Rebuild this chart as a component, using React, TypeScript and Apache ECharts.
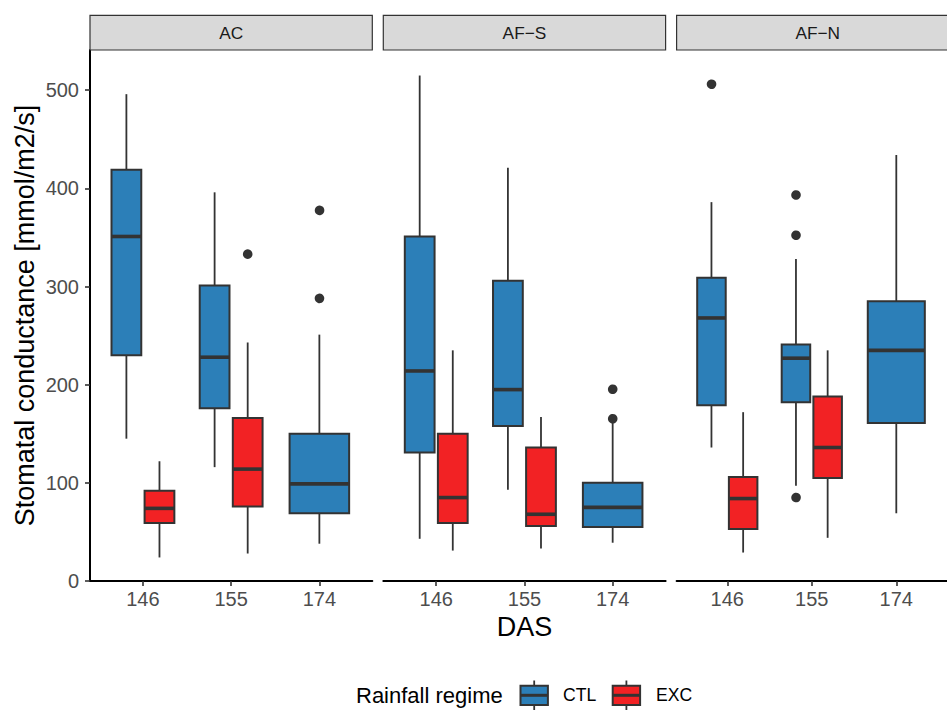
import React, { useEffect, useRef } from 'react';
import * as echarts from 'echarts';

const days = ['146', '155', '174'];
const facets = ['AC', 'AF\u2212S', 'AF\u2212N'];
const groups = ['CTL', 'EXC'];
const yTicks = [0, 100, 200, 300, 400, 500];

// box stats per day: [lower whisker, Q1, median, Q3, upper whisker]
const acCTL = [[145, 230, 351, 419, 496], [116, 176, 228, 301, 396], [38, 69, 99, 150, 251]];
const acEXC = [[24, 59, 74, 92, 122], [28, 76, 114, 166, 243], null];
const afsCTL = [[43, 131, 214, 351, 515], [93, 158, 195, 306, 421], [39, 55, 75, 100, 162]];
const afsEXC = [[31, 59, 85, 150, 235], [33, 56, 68, 136, 167], null];
const afnCTL = [[136, 179, 268, 309, 386], [97, 182, 227, 241, 328], [69, 161, 235, 285, 434]];
const afnEXC = [[29, 53, 84, 106, 172], [44, 105, 136, 188, 235], null];

// outliers per day
const acCTLOut = [[], [], [379, 289]];
const acEXCOut = [[], [333], []];
const afsCTLOut = [[], [], [196, 166]];
const afsEXCOut = [[], [], []];
const afnCTLOut = [[507], [394, 353, 86], []];
const afnEXCOut = [[], [], []];

const boxData = [
  [acCTL, acEXC],
  [afsCTL, afsEXC],
  [afnCTL, afnEXC],
];
const outData = [
  [acCTLOut, acEXCOut],
  [afsCTLOut, afsEXCOut],
  [afnCTLOut, afnEXCOut],
];

const COLORS = ['#2C7FB8', '#F22224'];
const EDGE = '#333333';
const FONT = '"Liberation Sans", Arial, Helvetica, sans-serif';
const PANEL_LEFT = [90, 383.3, 676.6];
const PANEL_W = 282.3;
const PANEL_TOP = 50;
const PANEL_H = 531;
const DODGE = 0.1875;

function slotFor(panel: number, g: number, d: number) {
  const other = boxData[panel][1 - g][d];
  if (!other) return 0;
  return g === 0 ? -1 : 1;
}

function renderBox(params: any, api: any) {
  const x = api.value(0);
  const slot = api.value(6);
  const band = api.size([1, 0])[0];
  const cx = api.coord([x + slot * DODGE, 0])[0];
  const w = band * (slot === 0 ? 0.675 : 0.3375);
  const yLow = api.coord([x, api.value(1)])[1];
  const yQ1 = api.coord([x, api.value(2)])[1];
  const yMed = api.coord([x, api.value(3)])[1];
  const yQ3 = api.coord([x, api.value(4)])[1];
  const yHigh = api.coord([x, api.value(5)])[1];
  const fill = COLORS[params.seriesName === 'EXC' ? 1 : 0];
  const wl = { stroke: EDGE, lineWidth: 1.8 };
  return {
    type: 'group',
    children: [
      { type: 'line', shape: { x1: cx, y1: yQ3, x2: cx, y2: yHigh }, style: wl },
      { type: 'line', shape: { x1: cx, y1: yQ1, x2: cx, y2: yLow }, style: wl },
      {
        type: 'rect',
        shape: { x: cx - w / 2, y: yQ3, width: w, height: yQ1 - yQ3 },
        style: { fill, stroke: EDGE, lineWidth: 2 },
      },
      {
        type: 'line',
        shape: { x1: cx - w / 2, y1: yMed, x2: cx + w / 2, y2: yMed },
        style: { stroke: EDGE, lineWidth: 3.6 },
      },
    ],
  };
}

function renderOut(params: any, api: any) {
  const x = api.value(0);
  const slot = api.value(2);
  const p = api.coord([x + slot * DODGE, api.value(1)]);
  return { type: 'circle', shape: { cx: p[0], cy: p[1], r: 4.8 }, style: { fill: EDGE } };
}

function buildOption() {
  const grid: any[] = [];
  const xAxis: any[] = [];
  const yAxis: any[] = [];
  const series: any[] = [];
  const graphic: any[] = [];

  facets.forEach((f, p) => {
    grid.push({ left: PANEL_LEFT[p], top: PANEL_TOP, width: PANEL_W, height: PANEL_H, containLabel: false });
    xAxis.push({
      type: 'value',
      gridIndex: p,
      min: 0.4,
      max: 3.6,
      splitLine: { show: false },
      axisLine: { show: true, lineStyle: { color: '#000000', width: 2 } },
      axisTick: { show: true, customValues: [1, 2, 3], length: 5, lineStyle: { color: EDGE, width: 1.6 } },
      axisLabel: {
        customValues: [1, 2, 3],
        formatter: (v: number) => days[Math.round(v) - 1] ?? '',
        fontSize: 20,
        color: '#4D4D4D',
        fontFamily: FONT,
        margin: 8,
      },
      ...(p === 1
        ? {
            name: 'DAS',
            nameLocation: 'middle',
            nameGap: 30,
            nameTextStyle: { fontSize: 27, color: '#000000', fontFamily: FONT },
          }
        : {}),
    });
    yAxis.push({
      type: 'value',
      gridIndex: p,
      min: 0,
      max: 541,
      show: p === 0,
      splitLine: { show: false },
      axisLine: { show: true, lineStyle: { color: '#000000', width: 2 } },
      axisTick: { show: true, customValues: yTicks, length: 5, lineStyle: { color: EDGE, width: 1.6 } },
      axisLabel: {
        customValues: yTicks,
        fontSize: 20,
        color: '#4D4D4D',
        fontFamily: FONT,
        margin: 11,
      },
      ...(p === 0
        ? {
            name: 'Stomatal conductance [mmol/m2/s]',
            nameLocation: 'middle',
            nameGap: 52,
            nameRotate: 90,
            nameTextStyle: { fontSize: 27, color: '#000000', fontFamily: FONT },
          }
        : {}),
    });

    groups.forEach((g, gi) => {
      const stats = boxData[p][gi];
      const data: any[] = [];
      stats.forEach((s, d) => {
        if (s) data.push([d + 1, s[0], s[1], s[2], s[3], s[4], slotFor(p, gi, d)]);
      });
      series.push({
        type: 'custom',
        name: g,
        xAxisIndex: p,
        yAxisIndex: p,
        renderItem: renderBox,
        encode: { x: 0, y: [1, 2, 3, 4, 5] },
        data,
        z: 2,
      });
      const outs: any[] = [];
      outData[p][gi].forEach((vals, d) => {
        vals.forEach((v) => outs.push([d + 1, v, slotFor(p, gi, d)]));
      });
      if (outs.length) {
        series.push({
          type: 'custom',
          name: g + ' outliers',
          xAxisIndex: p,
          yAxisIndex: p,
          renderItem: renderOut,
          encode: { x: 0, y: 1 },
          data: outs,
          z: 3,
        });
      }
    });

    graphic.push({
      type: 'rect',
      shape: { x: PANEL_LEFT[p], y: 15.3, width: PANEL_W, height: PANEL_TOP - 15.3 },
      style: { fill: '#D9D9D9', stroke: EDGE, lineWidth: 1.2 },
      z: 10,
    });
    graphic.push({
      type: 'text',
      x: PANEL_LEFT[p] + PANEL_W / 2,
      y: (15.3 + PANEL_TOP) / 2,
      style: {
        text: f,
        fontSize: 17.3,
        fill: '#1A1A1A',
        fontFamily: FONT,
        align: 'center',
        verticalAlign: 'middle',
      },
      z: 11,
    });
  });

  // legend
  graphic.push({
    type: 'text',
    x: 356,
    y: 695,
    style: { text: 'Rainfall regime', fontSize: 22, fill: '#000000', fontFamily: FONT, verticalAlign: 'middle' },
  });
  const keyX = [520.5, 612.7];
  const keyTextX = [563, 656];
  groups.forEach((g, gi) => {
    const x0 = keyX[gi];
    graphic.push({
      type: 'line',
      shape: { x1: x0 + 13.7, y1: 680.5, x2: x0 + 13.7, y2: 712 },
      style: { stroke: EDGE, lineWidth: 1.8 },
    });
    graphic.push({
      type: 'rect',
      shape: { x: x0, y: 685.7, width: 27.4, height: 19.3 },
      style: { fill: COLORS[gi], stroke: EDGE, lineWidth: 2 },
    });
    graphic.push({
      type: 'line',
      shape: { x1: x0, y1: 695.3, x2: x0 + 27.4, y2: 695.3 },
      style: { stroke: EDGE, lineWidth: 3 },
    });
    graphic.push({
      type: 'text',
      x: keyTextX[gi],
      y: 695,
      style: { text: g, fontSize: 17.6, fill: '#000000', fontFamily: FONT, verticalAlign: 'middle' },
    });
  });

  return {
    animation: false,
    backgroundColor: '#FFFFFF',
    textStyle: { fontFamily: FONT },
    grid,
    xAxis,
    yAxis,
    series,
    graphic,
  };
}

export default function App() {
  const ref = useRef<HTMLDivElement>(null);
  useEffect(() => {
    if (!ref.current) return;
    const chart = echarts.init(ref.current, null, { renderer: 'svg' });
    chart.setOption(buildOption() as any);
    return () => {
      chart.dispose();
    };
  }, []);
  return <div ref={ref} style={{ position: 'absolute', left: 0, top: 0, width: 947, height: 710 }} />;
}
